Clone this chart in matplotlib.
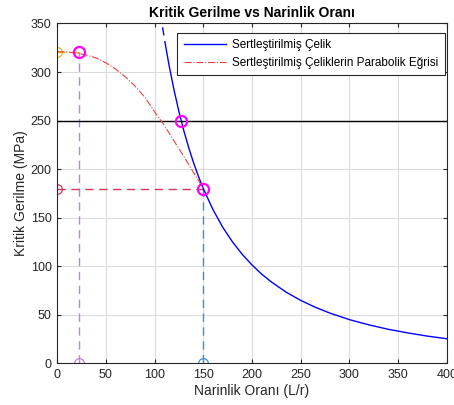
import matplotlib
matplotlib.use("Agg")
import matplotlib.pyplot as plt

plt.rcParams["font.family"] = ["Liberation Sans", "DejaVu Sans"]

# Euler curve (hardened steel)
euler_x = [112, 115, 120, 125, 130, 135, 140, 145, 150, 160, 170, 180, 190, 200,
           210, 220, 235, 250, 265, 280, 300, 320, 340, 360, 380, 400]
euler_y = [322.9, 306.2, 281.3, 259.2, 239.6, 222.2, 206.6, 192.6, 180.0, 158.2,
           140.1, 125.0, 112.2, 101.3, 91.8, 83.7, 73.3, 64.8, 57.7, 51.7, 45.0,
           39.6, 35.0, 31.3, 28.0, 25.3]
# dashed continuation above the solid part
euler_dash_x = [104, 106, 108, 110, 112]
euler_dash_y = [374.4, 360.4, 347.2, 334.7, 322.9]

# parabolic curve
para_x = [0, 10, 20, 30, 40, 50, 60, 70, 80, 90, 100, 110, 120, 130, 140, 150]
para_y = [321, 320.7, 319.5, 317.5, 314.5, 309.5, 303, 295, 285.5, 274, 259,
          245, 229, 213, 196.5, 180]

sigma_y = 321
sigma_line = 250
x_sy, x_250, x_t = 22, 127.3, 150
sigma_t = 180

fig = plt.figure(figsize=(4.54, 4.05), dpi=100)
ax = fig.add_axes([0.126, 0.103, 0.858, 0.839])

guide = dict(lw=1.0, ms=7, mfc="none", mew=0.9, markevery=[0], dashes=(6, 4))
ax.plot([0, x_sy], [sigma_y, sigma_y], "--o", color="#EDB120", **guide)
ax.plot([x_sy, x_sy], [0, sigma_y], "--o", color="#BC84DC", **guide)
ax.plot([0, x_t], [sigma_t, sigma_t], "--o", color="#D23A58", **guide)
ax.plot([x_t, x_t], [0, sigma_t], "--o", color="#3F8FD0", **guide)

ax.axhline(sigma_line, color="black", lw=1.0)

ax.plot(euler_dash_x, euler_dash_y, color="blue", lw=1.0, dashes=(6, 4))
l1, = ax.plot(euler_x, euler_y, "-", color="blue", lw=1.0,
              label="Sertleştirilmiş Çelik")
l2, = ax.plot(para_x, para_y, "-.", color="#F04040", lw=0.8,
              label="Sertleştirilmiş Çeliklerin Parabolik Eğrisi")

ax.plot([x_sy, x_250, x_t], [sigma_y, sigma_line, sigma_t], "o", color="magenta",
        ms=8, mfc="none", mew=1.6)

ax.set_xlim(0, 400)
ax.set_ylim(0, 350)
ax.set_xticks(range(0, 401, 50))
ax.set_yticks(range(0, 351, 50))
ax.grid(True, color="#DCDCDC", lw=0.8)
ax.set_axisbelow(True)
ax.tick_params(direction="in", top=True, right=True, labelsize=9, length=3,
               pad=4, colors="#262626", labelcolor="#262626")
for s in ax.spines.values():
    s.set_color("#262626")
    s.set_linewidth(0.8)

ax.set_xlabel("Narinlik Oranı (L/r)", fontsize=10, color="#262626", labelpad=2)
ax.set_ylabel("Kritik Gerilme (MPa)", fontsize=10, color="#262626", labelpad=2)
ax.set_title("Kritik Gerilme vs Narinlik Oranı", fontsize=10, fontweight="bold",
             pad=5)

leg = ax.legend(handles=[l1, l2], loc="upper right", fontsize=8.5,
                bbox_to_anchor=(0.995, 0.972), borderaxespad=0,
                fancybox=False, edgecolor="#262626", framealpha=1,
                handlelength=3.6, handletextpad=0.5, borderpad=0.55,
                labelspacing=0.45)
leg.get_frame().set_linewidth(0.8)

fig.savefig("out.png", dpi=100)
